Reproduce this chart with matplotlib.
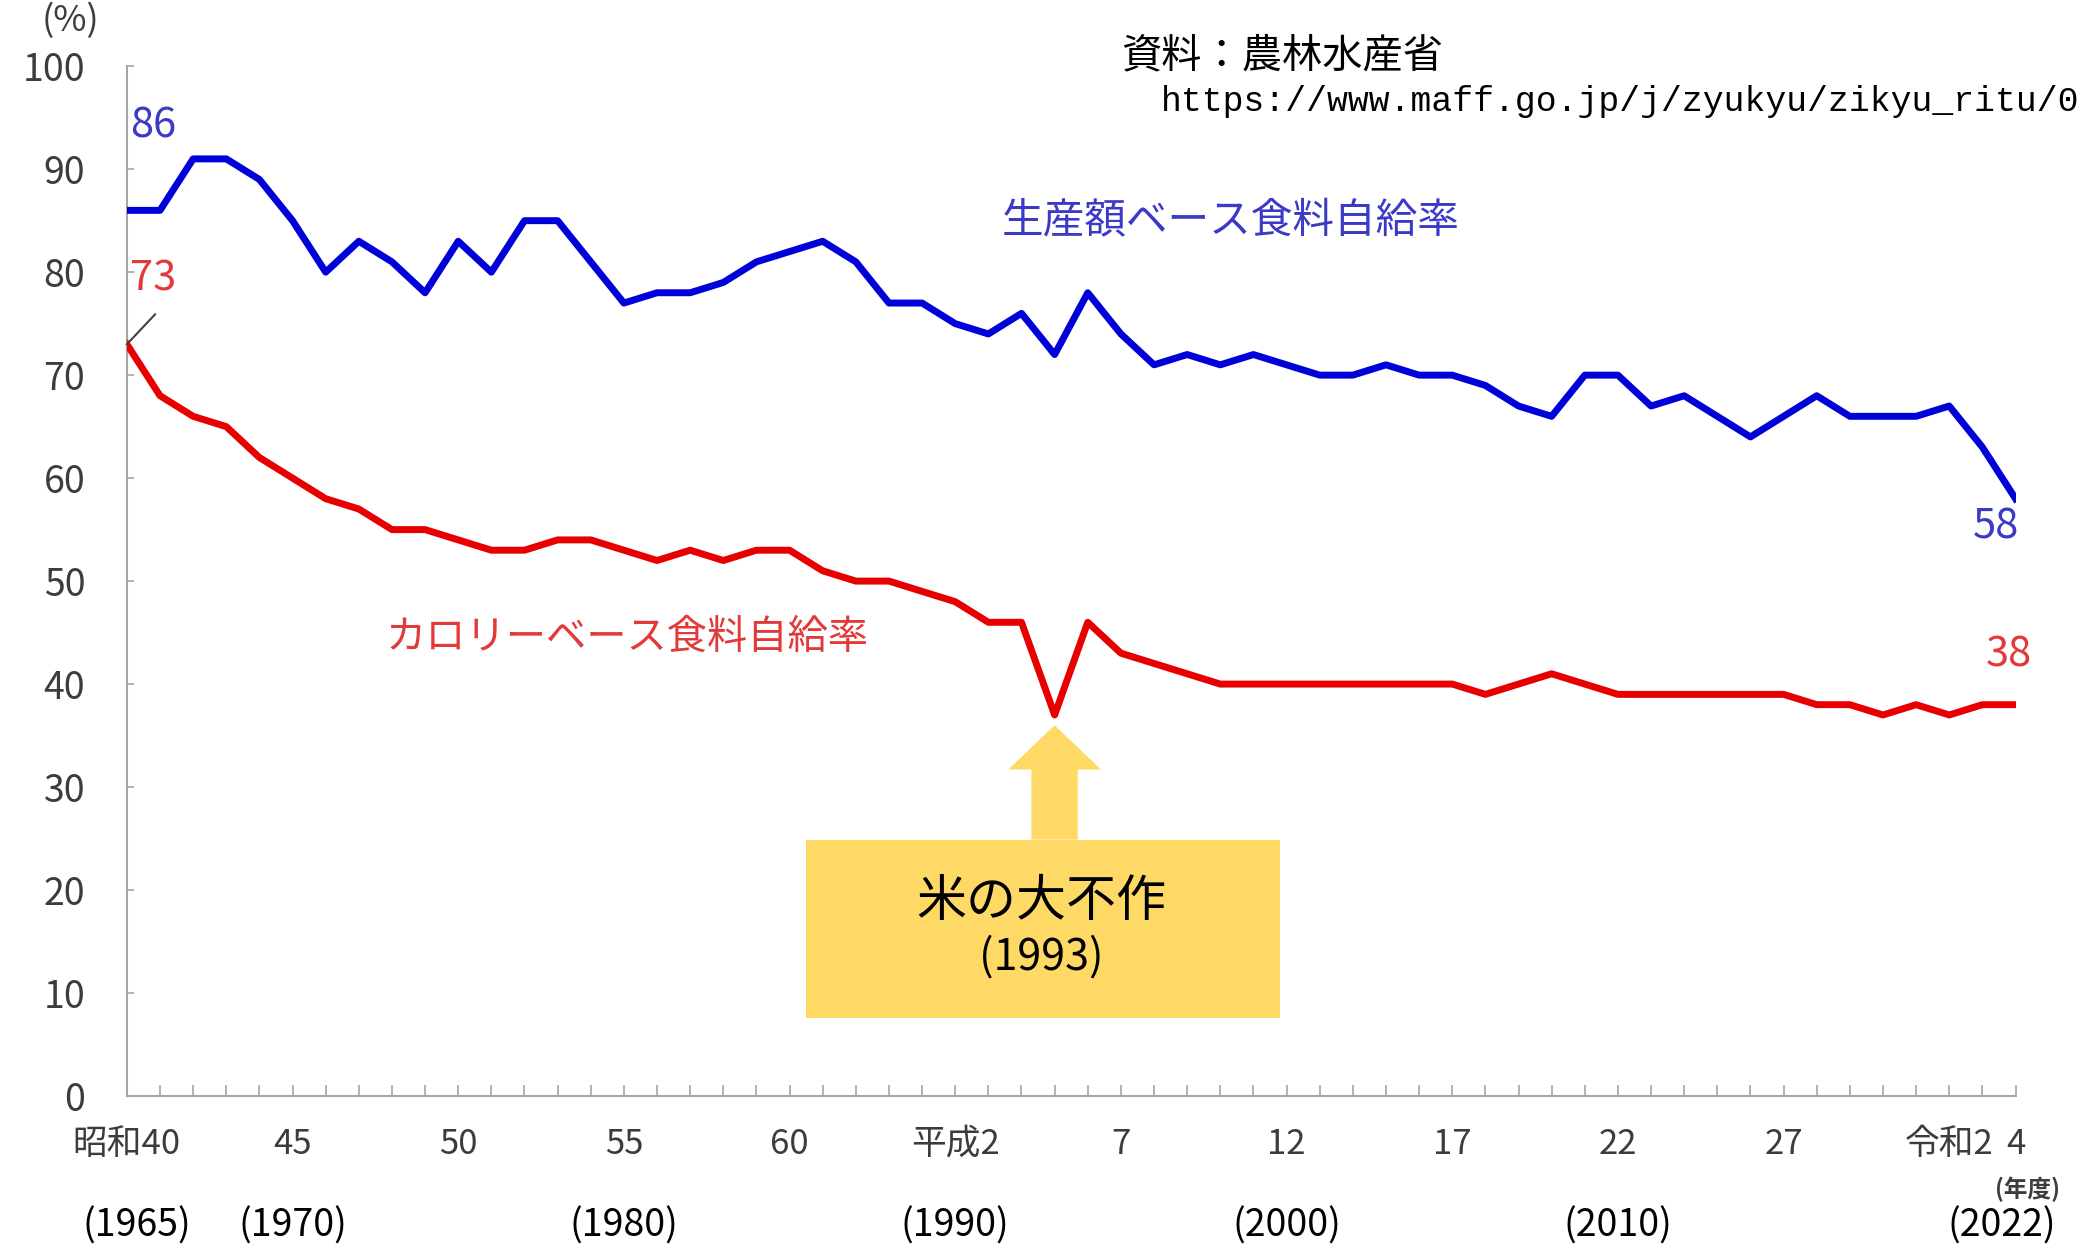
import matplotlib
matplotlib.use("Agg")
import matplotlib.pyplot as plt
import matplotlib.transforms as mtransforms
from matplotlib.patches import Rectangle, FancyArrow

plt.rcParams["font.family"] = ["Noto Sans CJK JP", "DejaVu Sans"]

# fiscal years 1965-2022
years = list(range(1965, 2023))
calorie = [73, 68, 66, 65, 62, 60, 58, 57, 55, 55,
           54, 53, 53, 54, 54, 53, 52, 53, 52, 53,
           53, 51, 50, 50, 49, 48, 46, 46, 37, 46,
           43, 42, 41, 40, 40, 40, 40, 40, 40, 40,
           40, 39, 40, 41, 40, 39, 39, 39, 39, 39,
           39, 38, 38, 37, 38, 37, 38, 38]
production = [86, 86, 91, 91, 89, 85, 80, 83, 81, 78,
              83, 80, 85, 85, 81, 77, 78, 78, 79, 81,
              82, 83, 81, 77, 77, 75, 74, 76, 72, 78,
              74, 71, 72, 71, 72, 71, 70, 70, 71, 70,
              70, 69, 67, 66, 70, 70, 67, 68, 66, 64,
              66, 68, 66, 66, 66, 67, 63, 58]

tick_years = [1965, 1970, 1975, 1980, 1985, 1990, 1995, 2000, 2005, 2010, 2015, 2020, 2022]
tick_labels = ["昭和40", "45", "50", "55", "60", "平成2", "7", "12", "17", "22", "27", "令和2", "4"]
west_years = [1965, 1970, 1980, 1990, 2000, 2010, 2022]
west_pos = [1965.3, 1970.0, 1980.0, 1990.0, 2000.0, 2010.0, 2021.6]

blue = "#0000d8"
red = "#e80000"
gray_txt = "#3c3c3c"
narrow = ["Liberation Sans Narrow", "Noto Sans CJK JP", "DejaVu Sans"]

fig = plt.figure(figsize=(20.8, 12.49), dpi=100)
ax = fig.add_axes([0.061, 0.1225, 0.908, 0.8245])

ax.plot(years, production, color=blue, lw=5, solid_joinstyle="round", zorder=3)
ax.plot(years, calorie, color=red, lw=5, solid_joinstyle="round", zorder=3)

ax.set_xlim(1965, 2022)
ax.set_ylim(0, 100)
for s in ["top", "right"]:
    ax.spines[s].set_visible(False)
for s in ["left", "bottom"]:
    ax.spines[s].set_color("#a6a6a6")
    ax.spines[s].set_linewidth(1.5)

ax.set_yticks(range(0, 101, 10))
ax.tick_params(axis="y", direction="in", length=5, width=1.2, color="#a6a6a6",
               labelsize=27, labelcolor=gray_txt, pad=30)
ax.set_xticks(tick_years)
ax.set_xticklabels(tick_labels)
ax.set_xticks(years, minor=True)
ax.tick_params(axis="x", which="both", direction="in", length=8, width=1.2,
               color="#a6a6a6")
ax.tick_params(axis="x", which="major", labelsize=25, labelcolor=gray_txt, pad=22)

# western year labels under the axis
bt = mtransforms.blended_transform_factory(ax.transData, fig.transFigure)
for y, xp in zip(west_years, west_pos):
    ax.text(xp, 0.018, "(%d)" % y, transform=bt, ha="center", va="center",
            fontsize=27, family=narrow, color="black")

fig.text(0.034, 0.983, "(%)", ha="center", va="center", fontsize=26, color=gray_txt)
ax.text(2022.35, -9.1, "(年度)", ha="center", va="center", fontsize=17,
        color=gray_txt, fontweight="bold", clip_on=False)

# source
fig.text(0.539, 0.955, "資料：農林水産省", ha="left", va="center", fontsize=29, color="black")
fig.text(0.558, 0.919, "https://www.maff.go.jp/j/zyukyu/zikyu_ritu/012.html",
         ha="left", va="center", fontsize=25, family=["Liberation Mono", "DejaVu Sans Mono"],
         color="black")

# series labels
ax.text(1998.3, 84.9, "生産額ベース食料自給率", ha="center", va="center",
        fontsize=30, color="#3a3ac6")
ax.text(1980.1, 44.5, "カロリーベース食料自給率", ha="center", va="center",
        fontsize=29, color="#e23a3a")

# first / last values
ax.text(1965.8, 94.2, str(production[0]), ha="center", va="center", fontsize=30,
        color="#3a3ac6", clip_on=False)
ax.text(1965.8, 79.3, str(calorie[0]), ha="center", va="center", fontsize=30,
        color="#e23a3a")
ax.plot([years[0], 1965.85], [calorie[0], 75.9], color="#404040", lw=1.5, zorder=4,
        clip_on=False)
ax.text(2021.4, 55.3, str(production[-1]), ha="center", va="center", fontsize=30,
        color="#3a3ac6", clip_on=False)
ax.text(2021.8, 42.8, str(calorie[-1]), ha="center", va="center", fontsize=30,
        color="#e23a3a", clip_on=False)

# 1993 rice crop failure callout
i93 = years.index(1993)
box_bottom, box_top = 7.6, 24.9
ax.add_patch(Rectangle((1985.5, box_bottom), 14.3, box_top - box_bottom,
                       facecolor="#ffd966", edgecolor="none", zorder=2))
ax.add_patch(FancyArrow(years[i93], box_top, 0, calorie[i93] - 1 - box_top,
                        width=1.4, head_width=2.8, head_length=4.3,
                        length_includes_head=True, facecolor="#ffd966",
                        edgecolor="none", zorder=2))
ax.text(1992.6, 18.8, "米の大不作", ha="center", va="center", fontsize=36, color="black")
ax.text(1992.6, 13.4, "(1993)", ha="center", va="center", fontsize=31,
        family=narrow, color="black")

fig.savefig("out.png", dpi=100)
plt.close(fig)
